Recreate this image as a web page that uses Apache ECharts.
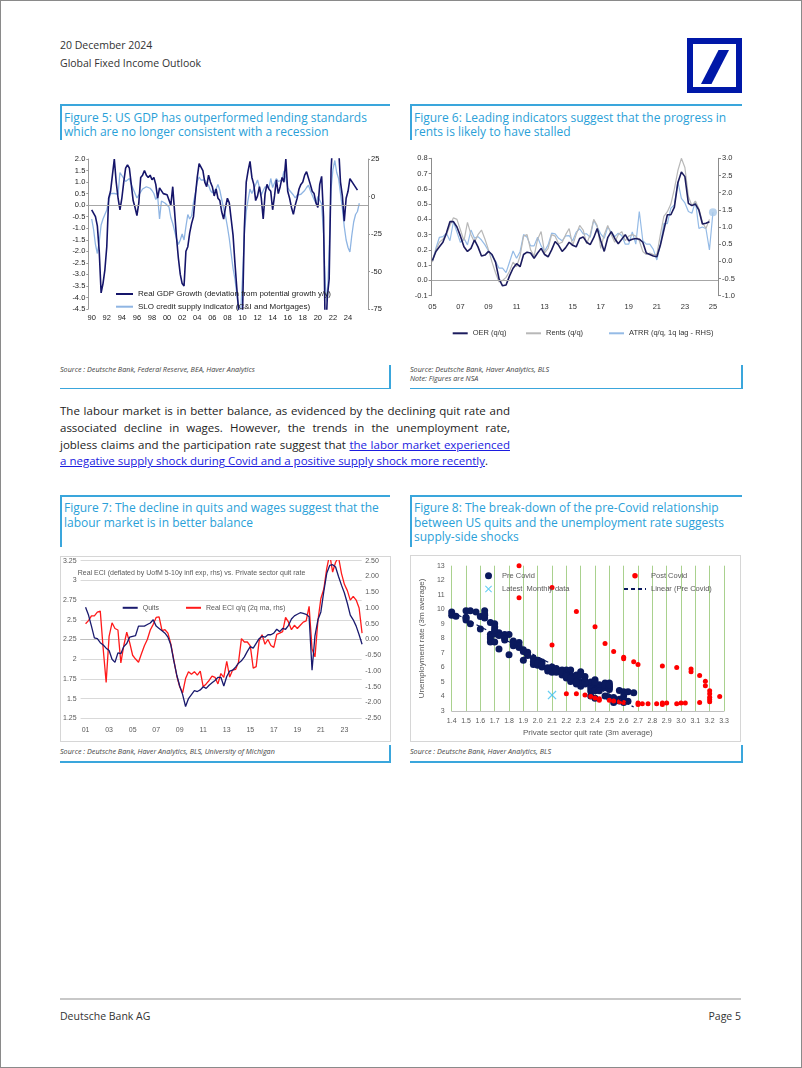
<!DOCTYPE html>
<html>
<head>
<meta charset="utf-8">
<title>Global Fixed Income Outlook</title>
<script src="https://cdn.jsdelivr.net/npm/echarts@6.0.0/dist/echarts.min.js"></script>
<style>
 html,body{margin:0;padding:0;background:#fff;}
 body{width:802px;height:1068px;position:relative;overflow:hidden;font-family:"Open Sans","Liberation Sans",Arial,sans-serif;color:#333;}
 .a{position:absolute;}
 .frame{left:0;top:0;width:800px;height:1066px;border:1px solid #8a8a8a;}
 .hdr{font-size:10.5px;line-height:14px;white-space:nowrap;color:#333;}
 .ttl{font-size:12px;line-height:14.5px;white-space:nowrap;color:#2A9FD8;}
 .blue{background:#3AA6DC;}
 .src{font-size:7.2px;line-height:8.7px;font-style:italic;white-space:nowrap;color:#444;}
 .para{font-size:11.5px;line-height:16.7px;color:#222;}
 .para .j{display:inline-block;white-space:nowrap;}
 .para a{color:#1C1CE0;text-decoration:underline;}
 .box{border:1px solid #d6d6d6;box-sizing:border-box;}
 .chart{position:absolute;}
</style>
</head>
<body>
<div class="a frame"></div>

<div class="a hdr" style="left:60px;top:38px">20 December 2024</div>
<div class="a hdr" style="left:60px;top:56px">Global Fixed Income Outlook</div>
<svg class="a" style="left:687px;top:38px" width="55" height="55" viewBox="0 0 55 55">
  <rect x="3" y="3" width="49" height="49" fill="#fff" stroke="#0018A8" stroke-width="6"/>
  <polygon points="14,46 24.5,46 42,12 31.5,12" fill="#0018A8"/>
</svg>

<!-- Figure 5 frame -->
<div class="a blue" style="left:60px;top:104px;width:330px;height:1.5px"></div>
<div class="a blue" style="left:60px;top:104px;width:1.5px;height:36px"></div>
<div class="a ttl" style="left:64px;top:110.5px">Figure 5: US GDP has outperformed lending standards<br>which are no longer consistent with a recession</div>
<div class="a src" style="left:60px;top:365px">Source : Deutsche Bank, Federal Reserve, BEA, Haver Analytics</div>
<div class="a blue" style="left:389px;top:365px;width:1.5px;height:23.5px"></div>
<div class="a blue" style="left:60px;top:387.5px;width:330.5px;height:1.5px"></div>

<!-- Figure 6 frame -->
<div class="a blue" style="left:410px;top:104px;width:332px;height:1.5px"></div>
<div class="a blue" style="left:410px;top:104px;width:1.5px;height:36px"></div>
<div class="a ttl" style="left:414px;top:110.5px">Figure 6: Leading indicators suggest that the progress in<br>rents is likely to have stalled</div>
<div class="a src" style="left:410px;top:365px">Source: Deutsche Bank, Haver Analytics, BLS<br>Note: Figures are NSA</div>
<div class="a blue" style="left:741px;top:365px;width:1.5px;height:23.5px"></div>
<div class="a blue" style="left:410px;top:387.5px;width:332.5px;height:1.5px"></div>

<!-- Paragraph -->
<div class="a para" style="left:60px;top:403.3px;width:470px">
  <span class="j">The labour market is in better balance, as evidenced by the declining quit rate and</span><br>
  <span class="j">associated decline in wages. However, the trends in the unemployment rate,</span><br>
  <span class="j">jobless claims and the participation rate suggest that <a>the labor market experienced</a></span><br>
  <span><a>a negative supply shock during Covid and a positive supply shock more recently</a>.</span>
</div>

<!-- Figure 7 frame -->
<div class="a blue" style="left:60px;top:495px;width:330px;height:1.5px"></div>
<div class="a blue" style="left:60px;top:495px;width:1.5px;height:52px"></div>
<div class="a ttl" style="left:64px;top:501px">Figure 7: The decline in quits and wages suggest that the<br>labour market is in better balance</div>
<div class="a box" style="left:60px;top:556px;width:331px;height:186px"></div>
<div class="a src" style="left:60px;top:747px">Source : Deutsche Bank, Haver Analytics, BLS, University of Michigan</div>
<div class="a blue" style="left:389px;top:745px;width:1.5px;height:17px"></div>
<div class="a blue" style="left:60px;top:761px;width:330.5px;height:1.5px"></div>

<!-- Figure 8 frame -->
<div class="a blue" style="left:410px;top:495px;width:332px;height:1.5px"></div>
<div class="a blue" style="left:410px;top:495px;width:1.5px;height:52px"></div>
<div class="a ttl" style="left:414px;top:501px">Figure 8: The break-down of the pre-Covid relationship<br>between US quits and the unemployment rate suggests<br>supply-side shocks</div>
<div class="a box" style="left:410px;top:555px;width:331px;height:187px"></div>
<div class="a src" style="left:410px;top:747px">Source : Deutsche Bank, Haver Analytics, BLS</div>
<div class="a blue" style="left:741px;top:745px;width:1.5px;height:17px"></div>
<div class="a blue" style="left:410px;top:761px;width:332.5px;height:1.5px"></div>

<!-- Footer -->
<div class="a" style="left:60px;top:998px;width:681px;height:1.5px;background:#c8c8c8"></div>
<div class="a hdr" style="left:60px;top:1009px">Deutsche Bank AG</div>
<div class="a hdr" style="left:641px;top:1009px;width:100px;text-align:right">Page 5</div>

<div id="fig5" class="chart" style="left:60px;top:145px;width:330px;height:190px"></div>
<div id="fig6" class="chart" style="left:405px;top:145px;width:336px;height:200px"></div>
<div id="fig7" class="chart" style="left:60px;top:556px;width:331px;height:186px"></div>
<div id="fig8" class="chart" style="left:410px;top:555px;width:331px;height:187px"></div>

<script>
// ---------------- Figure 5 data (quarterly, from 1990Q1) ----------------
const fig5Start = 1990;
const fig5Ticks = [1990,1992,1994,1996,1998,2000,2002,2004,2006,2008,2010,2012,2014,2016,2018,2020,2022,2024];
const gdpGap = [
 -0.2,-0.25,-0.5,-0.9,   -2.0,-3.8,-3.4,-2.8,   -1.8,0.3,0.6,1.3,   2.0,1.0,0.3,-0.2,
 0.3,1.0,1.6,1.75,       1.6,0.9,0.2,-0.1,      -0.45,0.1,1.2,1.3,  1.5,1.3,1.2,1.3,
 1.1,1.2,0.9,0.3,        0.75,0.7,0.5,0.55,     0.45,0.4,0.0,0.8,   -0.3,-1.4,-2.3,-3.0,
 -3.4,-3.5,-2.0,-1.8,    -1.2,-0.8,-0.5,0.4,    1.2,1.8,1.75,1.5,   1.0,0.8,1.3,1.0,
 0.8,0.4,0.7,0.3,        0.2,-0.3,-0.6,-0.1,    0.3,0.1,-0.6,-1.3,  -2.5,-3.6,-4.6,-5.0,
 -4.8,-1.0,1.0,1.5,      1.9,1.2,0.9,0.2,       0.4,0.8,0.3,-0.6,   0.5,0.9,0.7,0.6,
 -0.2,0.4,1.1,0.5,       0.8,1.2,1.0,2.0,       0.6,0.3,-0.1,-0.4,  0.0,0.3,0.7,0.9,
 1.0,1.3,1.45,1.4,       0.9,0.6,0.5,0.1,       -0.1,0.9,1.25,-0.5, -6.0,-4.0,-3.2,1.5,
 3.0,2.5,2.2,2.5,        1.0,0.4,-0.7,0.3,      0.6,1.15,1.1,0.9,   0.95,0.65
];
const sloCredit = [
 -15,-22,-32,-38,   -30,-19,-15,-12,   -9,-3,2,2,        2,1,1.5,16,
 14,12,10,9,        12,8,5,2,          -1,1,3,5,         6,6.5,6,5.5,
 4,2,-2,0,          -15,-3,-4,-4.5,    -5,-7,-14,-18,    -23,-28,-32,-29,
 -25,-29,-20,-12,   -15,-13,-4,2,      10,13,11,10,      11,9,7.5,4,
 2.5,2,5,8,         4,-2,-8,-13,       -20,-28,-38,-48,  -55,-65,-76,-78,
 -55,-25,-10,-2,    5,2,3,8,           11,11,1,4,        6.5,6,5.5,12,
 6,9,12,10,         9,11,17,12,        6,4,3,1,          -1,1,2,1.5,
 1,4,6,7.5,         4,1,-2,-4.5,       0,-1,-5,-25,      -60,-70,-35,5,
 18,24,16,12,       2,-8,-20,-29,      -34,-37,-26,-17,  -12,-10,-4.5
];

// ---------------- Figure 6 data (quarterly, from 2005Q1) ----------------
const fig6Start = 2005;
const fig6Ticks = [2005,2007,2009,2011,2013,2015,2017,2019,2021,2023,2025];
const oer = [
 0.13,0.19,0.22,0.25, 0.31,0.385,0.385,0.35, 0.29,0.22,0.19,0.21, 0.265,0.22,0.16,0.166,
 0.19,0.17,0.12,0.01, -0.035,-0.03,0.03,0.08, 0.11,0.09,0.17,0.185, 0.18,0.145,0.18,0.21,
 0.17,0.155,0.2,0.255, 0.23,0.19,0.215,0.25, 0.23,0.22,0.275,0.285, 0.25,0.235,0.28,0.34,
 0.26,0.19,0.28,0.32, 0.275,0.24,0.27,0.3, 0.26,0.27,0.275,0.27, 0.25,0.18,0.17,0.16,
 0.155,0.23,0.33,0.43, 0.43,0.48,0.64,0.71, 0.68,0.505,0.49,0.5, 0.46,0.37,0.375,0.385
];
const rents = [
 0.12,0.2,0.25,0.27, 0.3,0.36,0.41,0.4, 0.33,0.26,0.38,0.3, 0.25,0.3,0.33,0.27,
 0.2,0.12,0.05,-0.01, 0.0,0.02,0.06,0.12, 0.09,0.16,0.29,0.3, 0.2,0.16,0.27,0.32,
 0.18,0.21,0.3,0.29, 0.24,0.25,0.3,0.34, 0.23,0.3,0.36,0.33, 0.24,0.3,0.4,0.36,
 0.21,0.3,0.36,0.3, 0.25,0.3,0.32,0.26, 0.29,0.3,0.29,0.26, 0.19,0.17,0.18,0.17,
 0.17,0.3,0.42,0.45, 0.5,0.6,0.72,0.8, 0.74,0.55,0.49,0.52, 0.47,0.38,0.34,0.4
];
const atrr = [
 0.0,0.38,0.7,0.72, 0.82,0.6,1.16,0.85, 0.55,0.67,0.48,0.91, 0.67,0.72,0.62,0.48,
 0.3,0.16,0.0,-0.2, -0.2,-0.33,-0.02,0.3, 0.09,0.28,0.78,0.7, 0.45,0.45,0.7,0.45,
 0.3,0.48,0.82,0.8, 0.67,0.6,0.74,0.75, 0.6,0.85,0.95,0.8, 0.8,0.7,1.2,1.0,
 0.8,0.67,1.0,0.86, 0.72,0.82,0.75,0.5, 0.5,0.86,0.5,1.45, 0.6,0.5,0.5,0.35,
 0.04,0.48,1.1,1.1, 1.55,1.64,2.32,1.83, 1.7,1.45,1.4,1.75, 0.96,1.0,0.95,0.33
];
const atrrLatest = 1.43;

// ---------------- Figure 7 data (quarterly, from 2001Q1) ----------------
const fig7Start = 2001;
const fig7Ticks = [2001,2003,2005,2007,2009,2011,2013,2015,2017,2019,2021,2023];
const quits = [
 2.66,2.56,2.42,2.27, 2.26,2.21,2.18,2.14, 2.11,2.0,1.96,2.08, 2.07,2.16,2.2,2.28,
 2.29,2.3,2.42,2.42, 2.42,2.44,2.46,2.5, 2.42,2.39,2.36,2.33, 2.28,2.18,1.98,1.8,
 1.66,1.55,1.4,1.5, 1.55,1.6,1.59,1.61, 1.65,1.63,1.67,1.7, 1.73,1.77,1.77,1.66,
 1.78,1.85,1.86,1.9, 1.95,1.98,2.03,2.1, 2.16,2.14,2.2,2.26, 2.29,2.28,2.31,2.31,
 2.33,2.38,2.35,2.39, 2.38,2.43,2.51,2.55, 2.57,2.59,2.58,2.57, 2.54,1.86,2.3,2.5,
 2.6,2.86,3.09,3.19, 3.2,3.17,3.05,2.94, 2.84,2.71,2.56,2.5, 2.42,2.31,2.19
];
const realEci = [
 0.5,0.6,0.75,0.75, 0.87,0.9,-0.3,-1.36, 0.1,0.53,0.35,0.3, -0.74,-0.19,0.23,-0.1,
 -0.5,-0.62,-0.72,-0.45, -0.2,0.0,0.3,0.48, 0.7,0.72,0.28,0.31, 0.2,-0.15,-0.65,-1.15,
 -1.5,-1.69,-1.24,-1.02, -1.1,-1.02,-1.13,-1.0, -1.5,-1.41,-1.3,-1.16, -1.2,-1.41,-1.08,-1.2,
 -0.69,-1.19,-0.97,-0.95, -0.72,0.03,-0.08,-0.08, -0.2,-0.91,-0.86,-0.05, 0.15,-0.15,0.0,-0.19,
 -0.25,0.16,0.2,0.25, 0.7,0.55,0.31,0.45, 0.35,0.45,0.55,0.59, 1.05,-0.3,-0.55,0.6,
 1.3,1.6,2.26,2.7, 2.14,2.45,2.61,2.1, 1.75,1.55,1.25,1.37, 1.25,1.0,0.2
];

// ---------------- Figure 8 data ----------------
const preQuits = [
 1.40,1.40,1.43,1.50,1.50,1.50,1.53,1.53,1.57,1.60,1.60,1.63,1.63,1.63,1.67,1.67,1.67,1.67,1.70,1.70,
 1.70,1.70,1.73,1.73,1.77,1.77,1.80,1.80,1.83,1.83,1.87,1.87,1.90,1.90,1.93,1.93,1.97,1.97,2.00,2.00,
 2.03,2.03,2.07,2.07,2.10,2.10,2.10,2.13,2.13,2.17,2.17,2.20,2.20,2.20,2.23,2.23,2.23,2.27,2.27,2.27,
 2.30,2.30,2.30,2.33,2.33,2.37,2.37,2.37,2.40,2.40,2.40,2.40,2.43,2.43,2.47,2.47,2.47,2.50,2.50,2.50,
 2.50,2.53,2.53,2.57,2.57,2.60,2.60,2.60,2.63,2.63,2.67,
 2.13,2.17,2.20,2.27,2.30,2.30,2.33,2.37,2.37,2.40,2.43,2.47,2.50,2.53,2.57,2.60,1.83,1.87,1.90,1.93,
 1.97,2.00,2.03,2.07,1.67,1.70,1.73,1.77,1.50,1.63,1.70,2.20,2.23,2.27,2.33,2.40,2.50
];
const preUnemp = [
 9.82,9.6,9.53,9.9,9.45,9.27,9.9,9.0,9.82,9.5,8.65,9.9,9.67,9.4,9.1,8.27,7.98,7.76,9.0,8.78,
 8.49,7.76,8.38,7.27,8.27,7.89,8.27,6.87,7.82,7.49,7.71,7.38,7.22,6.49,7.04,6.82,6.64,6.2,6.49,6.16,
 6.38,6.04,5.98,5.76,6.04,5.82,5.67,5.93,5.67,5.82,5.49,5.82,5.6,5.27,5.82,5.49,5.04,5.49,5.16,4.87,
 5.71,5.04,4.71,5.38,4.87,4.6,4.38,4.04,5.16,4.82,4.56,3.89,4.82,4.6,4.93,4.6,4.04,4.93,4.71,4.49,
 3.93,3.93,3.6,4.42,3.82,4.33,4.04,3.76,4.33,3.67,4.27,
 5.8,5.7,5.5,5.35,5.5,4.9,5.1,4.8,5.0,4.4,4.4,4.8,4.6,3.8,3.7,3.6,7.6,7.5,7.1,6.9,
 6.4,6.3,6.2,5.9,8.1,8.3,8.2,8.0,9.4,9.6,8.6,5.4,5.3,5.0,4.95,5.0,4.8
];
const postQuits = [1.87,1.87,2.10,2.10,2.27,2.40,2.47,2.53,2.60,2.60,2.67,2.70,2.87,2.97,3.07,3.07,3.13,3.17,3.17,3.20,
 3.20,3.20,3.20,3.20,3.27,3.13,3.03,3.00,2.97,2.90,2.87,2.87,2.83,2.77,2.73,2.70,2.70,2.60,2.57,2.53,
 2.50,2.43,2.43,2.40,2.37,2.33,2.27,2.20];
const postUnemp = [13.0,10.8,11.5,7.55,9.85,8.8,7.65,7.1,6.7,6.6,6.4,6.2,6.1,6.0,5.9,5.7,5.45,5.05,4.75,4.4,
 4.2,3.95,3.8,3.65,4.0,3.6,3.55,3.55,3.5,3.55,3.55,3.45,3.5,3.5,3.5,3.55,3.45,3.6,3.65,3.7,
 3.75,3.75,3.85,3.9,4.0,4.1,4.2,4.2];
const latestQuits = [2.10];
const latestUnemp = [4.1];

// ---------------- helpers ----------------
const FONT = 'Liberation Sans, Arial, sans-serif';
const yy = v => String(Math.round(v) % 100).padStart(2, '0');
const quarterly = (start, arr) => arr.map((v, i) => [start + i * 0.25, v]);
function linReg(xs, ys) {
  const n = xs.length; let sx = 0, sy = 0, sxx = 0, sxy = 0;
  for (let i = 0; i < n; i++) { sx += xs[i]; sy += ys[i]; sxx += xs[i] * xs[i]; sxy += xs[i] * ys[i]; }
  const b = (n * sxy - sx * sy) / (n * sxx - sx * sx);
  return { a: (sy - b * sx) / n, b };
}
const zeroLine = (yIdx) => ({
  type: 'line', yAxisIndex: yIdx, data: [], z: 1, silent: true,
  markLine: { silent: true, symbol: ['none', 'none'], label: { show: false },
    lineStyle: { color: '#a6a6a6', width: 1, type: 'solid' }, data: [{ yAxis: 0 }] }
});
// legend entry showing only the line (no marker)
const lineOnly = name => ({ name, itemStyle: { opacity: 0 } });

// ---------------- Figure 5 ----------------
const f5Gdp = 'Real GDP Growth (deviation from potential growth y/y)';
const f5Slo = 'SLO credit supply indicator (C&I and Mortgages)';
echarts.init(document.getElementById('fig5')).setOption({
  animation: false,
  textStyle: { fontFamily: FONT },
  grid: { left: 28.3, right: 22, top: 14, bottom: 26 },
  legend: { orient: 'vertical', left: 55, top: 145, padding: 0, itemWidth: 17, itemHeight: 8, itemGap: 4.7,
    textStyle: { fontSize: 8, color: '#222', lineHeight: 8 }, data: [lineOnly(f5Gdp), lineOnly(f5Slo)] },
  xAxis: { type: 'value', min: 1989.55, max: 2026.65,
    axisLine: { show: false }, axisTick: { show: false }, splitLine: { show: false },
    axisLabel: { customValues: fig5Ticks, formatter: yy, fontSize: 7.5, color: '#222', margin: 5 } },
  yAxis: [
    { type: 'value', min: -4.5, max: 2, interval: 0.5,
      axisLine: { show: true, lineStyle: { color: '#9a9a9a' } }, axisTick: { show: true, length: 2, lineStyle: { color: '#9a9a9a' } },
      splitLine: { show: false }, axisLabel: { formatter: v => v.toFixed(1), fontSize: 7.5, color: '#222', margin: 3 } },
    { type: 'value', min: -75, max: 25, interval: 25, position: 'right',
      axisLine: { show: true, lineStyle: { color: '#9a9a9a' } }, axisTick: { show: true, length: 2, lineStyle: { color: '#9a9a9a' } },
      splitLine: { show: false }, axisLabel: { fontSize: 7.5, color: '#222', margin: 3 } }
  ],
  series: [
    zeroLine(0),
    { name: f5Slo, type: 'line', yAxisIndex: 1, data: quarterly(fig5Start, sloCredit), symbol: 'none', z: 2,
      lineStyle: { color: '#8FB5E3', width: 1.3 }, itemStyle: { color: '#8FB5E3' } },
    { name: f5Gdp, type: 'line', yAxisIndex: 0, data: quarterly(fig5Start, gdpGap), symbol: 'none', z: 3,
      lineStyle: { color: '#15156A', width: 1.6 }, itemStyle: { color: '#15156A' } }
  ]
});

// ---------------- Figure 6 ----------------
const f6Legend = (name, left) => ({ left, top: 184.3, padding: 0, itemWidth: 15, itemHeight: 8,
  textStyle: { fontSize: 7.5, color: '#333' }, data: [lineOnly(name)] });
echarts.init(document.getElementById('fig6')).setOption({
  animation: false,
  textStyle: { fontFamily: FONT },
  grid: { left: 26.7, right: 23, top: 13.3, bottom: 49.3 },
  legend: [f6Legend('OER (q/q)', 46.7), f6Legend('Rents (q/q)', 120), f6Legend('ATRR (q/q, 1q lag - RHS)', 203)],
  xAxis: { type: 'value', min: 2004.95, max: 2025.36,
    axisLine: { show: false }, axisTick: { show: false }, splitLine: { show: false },
    axisLabel: { customValues: fig6Ticks, formatter: yy, fontSize: 7.5, color: '#333', margin: 7 } },
  yAxis: [
    { type: 'value', min: -0.1, max: 0.8, interval: 0.1,
      axisLine: { show: true, lineStyle: { color: '#8c8c8c' } }, axisTick: { show: true, length: 3, lineStyle: { color: '#8c8c8c' } },
      splitLine: { show: false }, axisLabel: { formatter: v => v.toFixed(1), fontSize: 7.5, color: '#333', margin: 4 } },
    { type: 'value', min: -1, max: 3, interval: 0.5, position: 'right',
      axisLine: { show: true, lineStyle: { color: '#8c8c8c' } }, axisTick: { show: true, length: 3, lineStyle: { color: '#8c8c8c' } },
      splitLine: { show: false }, axisLabel: { formatter: v => v.toFixed(1), fontSize: 7.5, color: '#333', margin: 4 } }
  ],
  series: [
    zeroLine(0),
    { name: 'ATRR (q/q, 1q lag - RHS)', type: 'line', yAxisIndex: 1, z: 2, symbol: 'none',
      data: quarterly(fig6Start, atrr.concat([atrrLatest])),
      lineStyle: { color: '#95BBE6', width: 1.2 }, itemStyle: { color: '#95BBE6' } },
    { name: 'ATRR latest', type: 'scatter', yAxisIndex: 1, z: 5, symbolSize: 8,
      data: [[fig6Start + atrr.length * 0.25, atrrLatest]], itemStyle: { color: '#A9C9EA' } },
    { name: 'Rents (q/q)', type: 'line', yAxisIndex: 0, z: 3, symbol: 'none', data: quarterly(fig6Start, rents),
      lineStyle: { color: '#B8B8B8', width: 1.2 }, itemStyle: { color: '#B8B8B8' } },
    { name: 'OER (q/q)', type: 'line', yAxisIndex: 0, z: 4, symbol: 'none', data: quarterly(fig6Start, oer),
      lineStyle: { color: '#1C1C5E', width: 1.6 }, itemStyle: { color: '#1C1C5E' } }
  ]
});

// ---------------- Figure 7 ----------------
echarts.init(document.getElementById('fig7')).setOption({
  animation: false,
  textStyle: { fontFamily: FONT },
  title: { text: 'Real ECI (deflated by UofM 5-10y infl exp, rhs) vs. Private sector quit rate',
    left: 17.7, top: 13.5, padding: 0, textStyle: { fontSize: 7, fontWeight: 'normal', color: '#595959' } },
  grid: { left: 18.3, right: 29.3, top: 4.7, bottom: 23.7 },
  legend: [
    { left: 61.7, top: 48.3, padding: 0, itemWidth: 15, itemHeight: 8, textStyle: { fontSize: 7, color: '#595959' }, data: [lineOnly('Quits')] },
    { left: 125, top: 48.3, padding: 0, itemWidth: 15, itemHeight: 8, textStyle: { fontSize: 7, color: '#595959' }, data: [lineOnly('Real ECI q/q (2q ma, rhs)')] }
  ],
  xAxis: { type: 'value', min: 2000.58, max: 2024.47,
    axisLine: { show: true, lineStyle: { color: '#bfbfbf' } }, axisTick: { show: false }, splitLine: { show: false },
    axisLabel: { customValues: fig7Ticks, formatter: yy, fontSize: 7, color: '#595959', margin: 8 } },
  yAxis: [
    { type: 'value', min: 1.25, max: 3.25, interval: 0.25,
      axisLine: { show: false }, axisTick: { show: false },
      splitLine: { show: true, lineStyle: { color: '#d9d9d9', width: 1 } },
      axisLabel: { fontSize: 7, color: '#595959', margin: 4 } },
    { type: 'value', min: -2.5, max: 2.5, interval: 0.5, position: 'right',
      axisLine: { show: false }, axisTick: { show: false }, splitLine: { show: false },
      axisLabel: { formatter: v => v.toFixed(2), fontSize: 7, color: '#595959', margin: 3.5 } }
  ],
  series: [
    { name: 'Quits', type: 'line', yAxisIndex: 0, symbol: 'none', z: 3, data: quarterly(fig7Start, quits),
      lineStyle: { color: '#1A1A6E', width: 1.3 }, itemStyle: { color: '#1A1A6E' } },
    { name: 'Real ECI q/q (2q ma, rhs)', type: 'line', yAxisIndex: 1, symbol: 'none', z: 2, data: quarterly(fig7Start, realEci),
      lineStyle: { color: '#FF1A1A', width: 1.3 }, itemStyle: { color: '#FF1A1A' } }
  ]
});

// ---------------- Figure 8 ----------------
const fit = linReg(preQuits, preUnemp);
const fitX0 = Math.min(...preQuits), fitX1 = Math.max(...preQuits);
const X_SYMBOL = 'path://M1,0 L5,4 L9,0 L10,1 L6,5 L10,9 L9,10 L5,6 L1,10 L0,9 L4,5 L0,1 Z';
echarts.init(document.getElementById('fig8')).setOption({
  animation: false,
  textStyle: { fontFamily: FONT },
  grid: { left: 30.7, right: 17, top: 10.7, bottom: 26.3 },
  legend: [
    { orient: 'vertical', left: 75, top: 16.7, padding: 0, itemWidth: 17, itemHeight: 7, itemGap: 5.3,
      textStyle: { fontSize: 7.5, color: '#595959', lineHeight: 8 }, data: ['Pre Covid', 'Latest  Monthly data'] },
    { orient: 'vertical', left: 213, top: 16.7, padding: 0, itemWidth: 22, itemHeight: 5.5, itemGap: 5.3,
      textStyle: { fontSize: 7.5, color: '#595959', lineHeight: 8 }, data: ['Post Covid', lineOnly('Linear (Pre Covid)')] }
  ],
  xAxis: { type: 'value', min: 1.4, max: 3.3, interval: 0.1,
    name: 'Private sector quit rate (3m average)', nameLocation: 'middle', nameGap: 13.5,
    nameTextStyle: { fontSize: 8, color: '#595959' },
    axisLine: { show: true, lineStyle: { color: '#bfbfbf' } }, axisTick: { show: false },
    splitLine: { show: true, lineStyle: { color: '#A9D18E', width: 1 } },
    axisLabel: { formatter: v => v.toFixed(1), fontSize: 7, color: '#595959', margin: 6 } },
  yAxis: { type: 'value', min: 3, max: 13, interval: 1,
    name: 'Unemployment rate (3m average)', nameLocation: 'middle', nameGap: 21,
    nameTextStyle: { fontSize: 8, color: '#595959' },
    axisLine: { show: false }, axisTick: { show: false }, splitLine: { show: false },
    axisLabel: { fontSize: 7, color: '#595959', margin: 7 } },
  series: [
    { name: 'Pre Covid', type: 'scatter', symbolSize: 7, z: 2,
      data: preQuits.map((x, i) => [x, preUnemp[i]]), itemStyle: { color: '#0B1A5E', opacity: 1 } },
    { name: 'Post Covid', type: 'scatter', symbolSize: 5, z: 3,
      data: postQuits.map((x, i) => [x, postUnemp[i]]), itemStyle: { color: '#FF0000', opacity: 1 } },
    { name: 'Latest  Monthly data', type: 'scatter', symbol: X_SYMBOL, symbolSize: 9, z: 4,
      data: latestQuits.map((x, i) => [x, latestUnemp[i]]), itemStyle: { color: '#3DC2F0' } },
    { name: 'Linear (Pre Covid)', type: 'line', symbol: 'none', z: 5,
      data: [[fitX0, fit.a + fit.b * fitX0], [fitX1, fit.a + fit.b * fitX1]],
      lineStyle: { color: '#0B1A5E', width: 1.2, type: [4, 3] }, itemStyle: { color: '#0B1A5E' } }
  ]
});

// ---------------- justify paragraph lines ----------------
function justify() {
  document.querySelectorAll('.para .j').forEach(el => {
    el.style.wordSpacing = '0px';
    const w = el.getBoundingClientRect().width;
    const spaces = (el.textContent.match(/ /g) || []).length;
    if (spaces) el.style.wordSpacing = ((450 - w) / spaces) + 'px';
  });
}
justify();
if (document.fonts && document.fonts.ready) document.fonts.ready.then(justify);
</script>
</body>
</html>
